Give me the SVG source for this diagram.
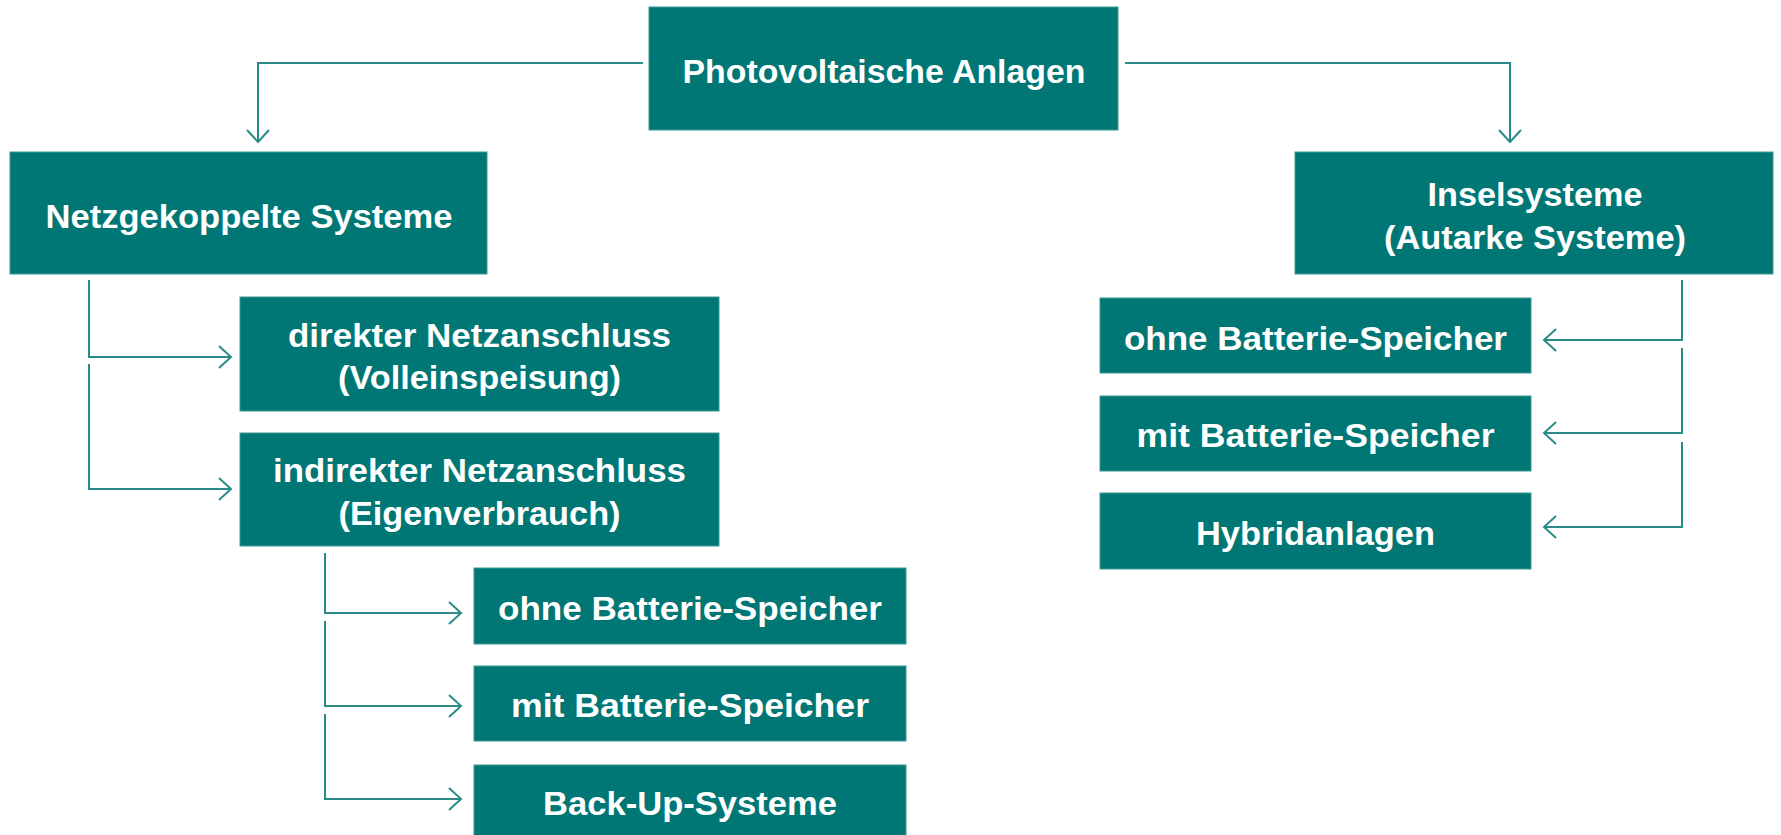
<svg xmlns="http://www.w3.org/2000/svg" width="1781" height="835" viewBox="0 0 1781 835">
  <style>
    .box { fill: #007775; stroke: #3f9a97; stroke-width: 1; }
    .lbl { fill: #ffffff; font-family: "Liberation Sans", Arial, sans-serif; font-weight: bold; font-size: 34px; text-anchor: middle; }
    .con { fill: none; stroke: #2a8b88; stroke-width: 2; }
  </style>
  <defs>
    <marker id="arr" markerUnits="userSpaceOnUse" markerWidth="18" markerHeight="28" refX="13" refY="12" orient="auto" overflow="visible">
      <path d="M1,1 L13,12 L1,23" fill="none" stroke="#2a8b88" stroke-width="2"/>
    </marker>
  </defs>
  <rect width="1781" height="835" fill="#ffffff"/>

  <g id="connectors">
    <path class="con" d="M643,63 H258 V142" marker-end="url(#arr)"/>
    <path class="con" d="M1125,63 H1510 V142" marker-end="url(#arr)"/>
    <path class="con" d="M89,280 V357 H231" marker-end="url(#arr)"/>
    <path class="con" d="M89,364 V489 H231" marker-end="url(#arr)"/>
    <path class="con" d="M325,553 V613 H461" marker-end="url(#arr)"/>
    <path class="con" d="M325,621 V706 H461" marker-end="url(#arr)"/>
    <path class="con" d="M325,714 V799 H461" marker-end="url(#arr)"/>
    <path class="con" d="M1682,280 V340 H1544" marker-end="url(#arr)"/>
    <path class="con" d="M1682,348 V433 H1544" marker-end="url(#arr)"/>
    <path class="con" d="M1682,442 V527 H1544" marker-end="url(#arr)"/>
  </g>

  <g id="n-pv">
    <rect class="box" x="649" y="7" width="469" height="123"/>
    <text class="lbl" x="884" y="83" textLength="403" lengthAdjust="spacingAndGlyphs">Photovoltaische Anlagen</text>
  </g>
  <g id="n-netz">
    <rect class="box" x="10" y="152" width="477" height="122"/>
    <text class="lbl" x="249" y="228" textLength="407" lengthAdjust="spacingAndGlyphs">Netzgekoppelte Systeme</text>
  </g>
  <g id="n-insel">
    <rect class="box" x="1295" y="152" width="478" height="122"/>
    <text class="lbl" x="1535" y="206" textLength="215" lengthAdjust="spacingAndGlyphs">Inselsysteme</text>
    <text class="lbl" x="1535" y="249" textLength="302" lengthAdjust="spacingAndGlyphs">(Autarke Systeme)</text>
  </g>
  <g id="n-direkt">
    <rect class="box" x="240" y="297" width="479" height="114"/>
    <text class="lbl" x="479.5" y="347" textLength="383" lengthAdjust="spacingAndGlyphs">direkter Netzanschluss</text>
    <text class="lbl" x="479.5" y="389" textLength="283" lengthAdjust="spacingAndGlyphs">(Volleinspeisung)</text>
  </g>
  <g id="n-indirekt">
    <rect class="box" x="240" y="433" width="479" height="113"/>
    <text class="lbl" x="479.5" y="482" textLength="413" lengthAdjust="spacingAndGlyphs">indirekter Netzanschluss</text>
    <text class="lbl" x="479.5" y="525" textLength="282" lengthAdjust="spacingAndGlyphs">(Eigenverbrauch)</text>
  </g>
  <g id="n-ohne-l">
    <rect class="box" x="474" y="568" width="432" height="76"/>
    <text class="lbl" x="690" y="620" textLength="384" lengthAdjust="spacingAndGlyphs">ohne Batterie-Speicher</text>
  </g>
  <g id="n-mit-l">
    <rect class="box" x="474" y="666" width="432" height="75"/>
    <text class="lbl" x="690" y="717" textLength="358" lengthAdjust="spacingAndGlyphs">mit Batterie-Speicher</text>
  </g>
  <g id="n-backup">
    <rect class="box" x="474" y="765" width="432" height="80"/>
    <text class="lbl" x="690" y="815" textLength="294" lengthAdjust="spacingAndGlyphs">Back-Up-Systeme</text>
  </g>
  <g id="n-ohne-r">
    <rect class="box" x="1100" y="298" width="431" height="75"/>
    <text class="lbl" x="1315.5" y="350" textLength="383" lengthAdjust="spacingAndGlyphs">ohne Batterie-Speicher</text>
  </g>
  <g id="n-mit-r">
    <rect class="box" x="1100" y="396" width="431" height="75"/>
    <text class="lbl" x="1315.5" y="447" textLength="358" lengthAdjust="spacingAndGlyphs">mit Batterie-Speicher</text>
  </g>
  <g id="n-hybrid">
    <rect class="box" x="1100" y="493" width="431" height="76"/>
    <text class="lbl" x="1315.5" y="545" textLength="239" lengthAdjust="spacingAndGlyphs">Hybridanlagen</text>
  </g>
</svg>
